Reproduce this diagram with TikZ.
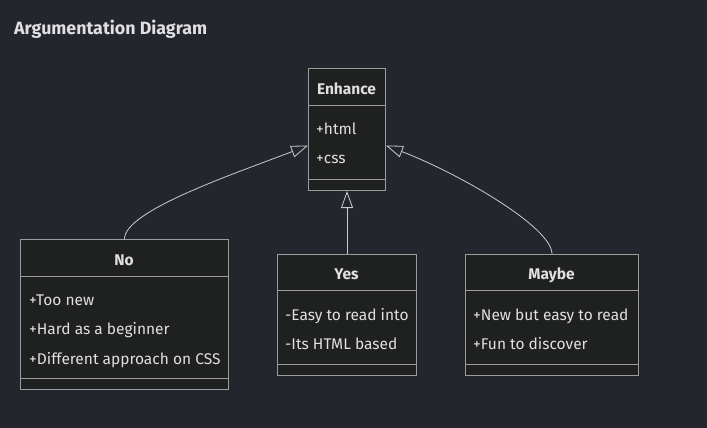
\documentclass[tikz,border=0pt]{standalone}
\usepackage{fontspec}
\setmainfont{Fira Sans}
\usetikzlibrary{arrows.meta}

\definecolor{bgcol}{HTML}{24262E}
\definecolor{boxfill}{HTML}{1F2020}
\definecolor{boxline}{HTML}{9C9C9C}
\definecolor{linkcol}{HTML}{CCCCCC}
\definecolor{txtcol}{HTML}{E0DFE2}

\tikzset{
  classbox/.style={draw=boxline, fill=boxfill, line width=1pt, inner sep=0pt, anchor=north west},
  divider/.style={draw=boxline, line width=1pt},
  classname/.style={text=txtcol, font=\fontsize{15.5}{17}\selectfont\bfseries, anchor=base, inner sep=0pt},
  member/.style={text=txtcol, font=\fontsize{15.5}{17}\selectfont, anchor=base west, inner sep=0pt},
  inherit/.style={draw=linkcol, line width=0.8pt, -{Triangle[open, length=17pt, width=12pt]}}
}

\begin{document}
\begin{tikzpicture}[x=1pt,y=-1pt]
  % sfondo
  \fill[bgcol] (0,0) rectangle (707,428);
  \useasboundingbox (0,0) rectangle (707,428);
  % titolo
  \node[anchor=base west, inner sep=0pt, text=txtcol, font=\fontsize{17.8}{20}\selectfont\bfseries] (title) at (14,35) {Argumentation Diagram};

  % Enhance
  \node[classbox, minimum width=77pt, minimum height=122pt] (enhance) at (308,68) {};
  \draw[divider] (308,105) -- (385,105);
  \draw[divider] (308,179) -- (385,179);
  \node[classname] (enhance-name) at (346.5,94) {Enhance};
  \node[member] (enhance-a) at (316,134) {+html};
  \node[member] (enhance-b) at (316,163) {+css};

  % No
  \node[classbox, minimum width=208pt, minimum height=150pt] (no) at (20,239) {};
  \draw[divider] (20,276) -- (228,276);
  \draw[divider] (20,378) -- (228,378);
  \node[classname] (no-name) at (124,265) {No};
  \node[member] (no-a) at (29,305) {+Too new};
  \node[member] (no-b) at (29,334) {+Hard as a beginner};
  \node[member] (no-c) at (29,364) {+Different approach on CSS};

  % Yes
  \node[classbox, minimum width=139pt, minimum height=121pt] (yes) at (277,254) {};
  \draw[divider] (277,290) -- (416,290);
  \draw[divider] (277,364) -- (416,364);
  \node[classname] (yes-name) at (346.5,279) {Yes};
  \node[member] (yes-a) at (285,320) {-Easy to read into};
  \node[member] (yes-b) at (285,349) {-Its HTML based};

  % Maybe
  \node[classbox, minimum width=173pt, minimum height=121pt] (maybe) at (465,254) {};
  \draw[divider] (465,290) -- (638,290);
  \draw[divider] (465,364) -- (638,364);
  \node[classname] (maybe-name) at (551.5,279) {Maybe};
  \node[member] (maybe-a) at (473,320) {+New but easy to read};
  \node[member] (maybe-b) at (473,349) {+Fun to discover};

  % Ereditarieta
  \draw[inherit] (no.north) to[out=90, in=201, out looseness=0.35, in looseness=1] ([yshift=-16pt]enhance.west);
  \draw[inherit] (yes.north) -- (enhance.south);
  \draw[inherit] (maybe.north) to[out=90, in=-21, out looseness=0.35, in looseness=1] ([yshift=-16pt]enhance.east);
\end{tikzpicture}
\end{document}
